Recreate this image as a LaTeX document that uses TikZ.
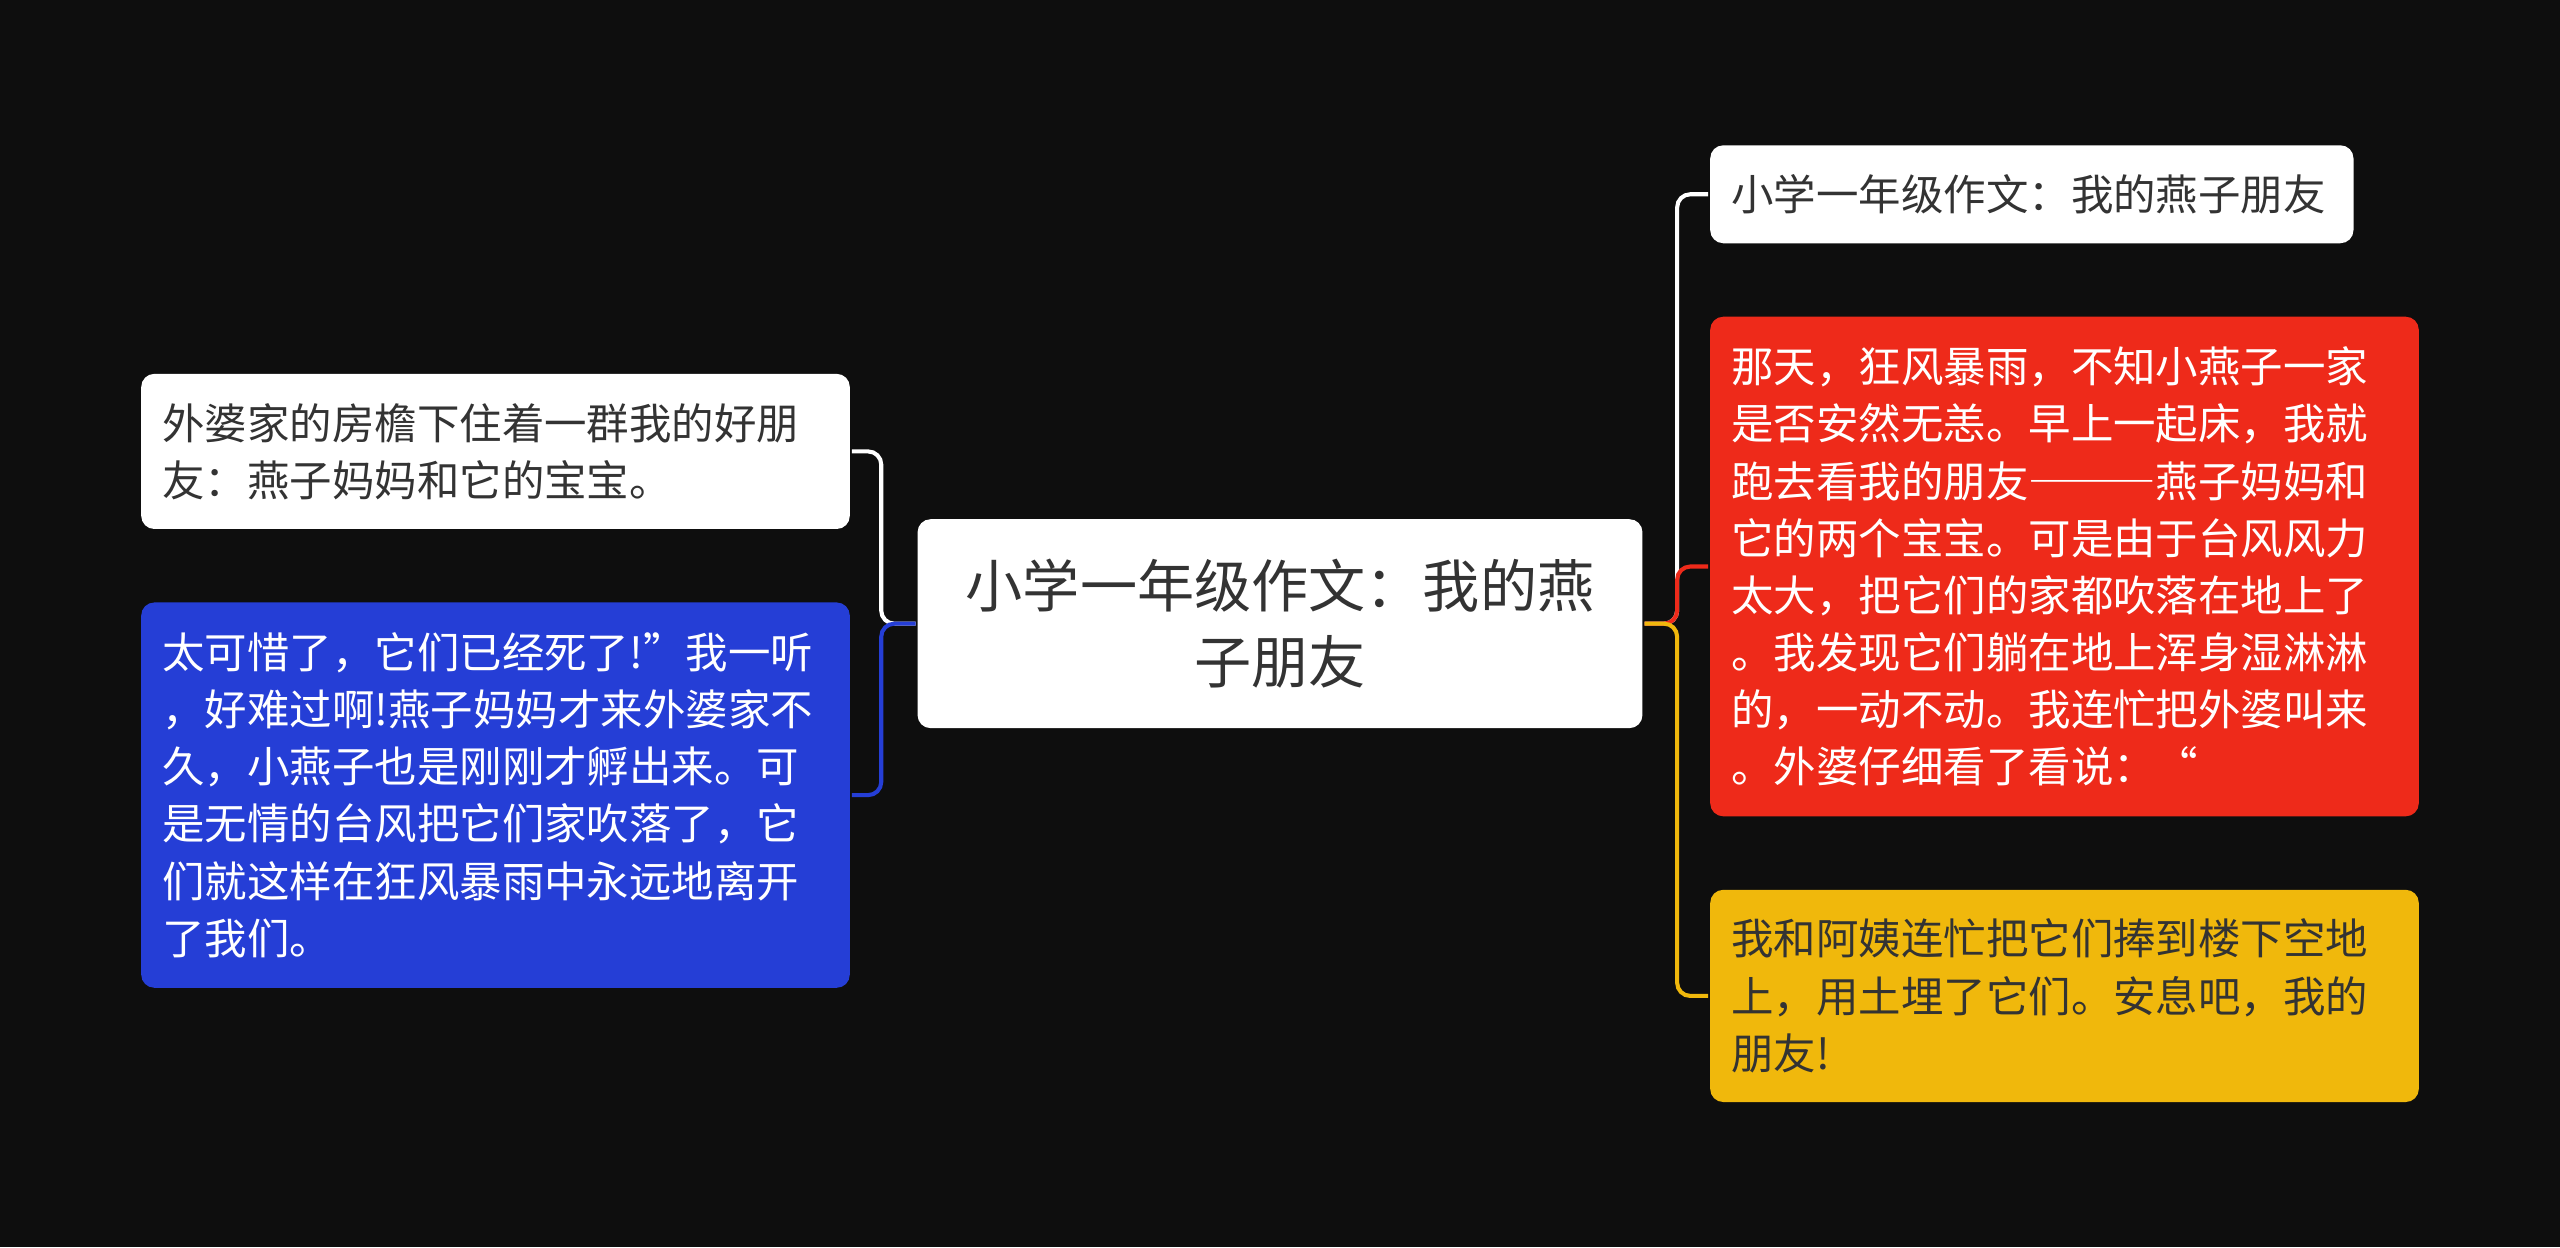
\documentclass[tikz,border=0pt]{standalone}
\usepackage{fontspec}
\newfontfamily\cjk{Noto Sans CJK SC}
\usetikzlibrary{positioning}
\definecolor{bgd}{RGB}{14,14,14}
\definecolor{ink}{RGB}{51,51,51}
\definecolor{blu}{RGB}{37,62,214}
\definecolor{rd}{RGB}{238,42,26}
\definecolor{ylw}{RGB}{240,184,12}

\begin{document}
\begin{tikzpicture}[x=1pt,y=1pt,line width=2.5pt,
  root/.style={fill=white,text=ink,rounded corners=8pt,inner sep=0pt,text width=392pt,minimum width=444pt,minimum height=128pt,align=center,font={\cjk\fontsize{35}{47}\selectfont}},
  leaf/.style={rounded corners=8pt,inner xsep=13pt,inner ysep=0pt,text width=408pt,align=left,font={\cjk\fontsize{26}{35}\selectfont}},
  wht/.style={leaf,fill=white,text=ink},
  bl/.style={leaf,fill=blu,text=white},
  rdb/.style={leaf,fill=rd,text=white},
  yl/.style={leaf,fill=ylw,text=ink},
  lnk/.style={rounded corners=8pt}]
  \fill[bgd] (0,0) rectangle (1568,764);
  \useasboundingbox (0,0) rectangle (1568,764);
  \node[root] (root) at (784,382) {小学一年级作文：我的燕\\子朋友};
  \node[wht,anchor=east,minimum height=95pt] (lw) at ([shift={(-39,105.5)}]root.west) {外婆家的房檐下住着一群我的好朋\\友：燕子妈妈和它的宝宝。};
  \node[bl,anchor=east,minimum height=236pt] (lb) at ([shift={(-39,-105)}]root.west) {太可惜了，它们已经死了!”我一听\\，好难过啊!燕子妈妈才来外婆家不\\久，小燕子也是刚刚才孵出来。可\\是无情的台风把它们家吹落了，它\\们就这样在狂风暴雨中永远地离开\\了我们。};
  \node[wht,anchor=west,minimum height=60pt,text width=368pt] (rw) at ([shift={(39,263)}]root.east) {小学一年级作文：我的燕子朋友};
  \node[rdb,anchor=west,minimum height=306pt] (rr) at ([shift={(39,35)}]root.east) {那天，狂风暴雨，不知小燕子一家\\是否安然无恙。早上一起床，我就\\跑去看我的朋友{\addfontfeature{RawFeature=+fwid}———}燕子妈妈和\\它的两个宝宝。可是由于台风风力\\太大，把它们的家都吹落在地上了\\。我发现它们躺在地上浑身湿淋淋\\的，一动不动。我连忙把外婆叫来\\。外婆仔细看了看说：“};
  \node[yl,anchor=west,minimum height=130pt] (ry) at ([shift={(39,-228)}]root.east) {我和阿姨连忙把它们捧到楼下空地\\上，用土埋了它们。安息吧，我的\\朋友!};
  \draw[lnk,white] (root.west) -- ([xshift=-21pt]root.west) |- (lw.east);
  \draw[lnk,blu] (root.west) -- ([xshift=-21pt]root.west) |- (lb.east);
  \draw[lnk,white] (root.east) -- ([xshift=20pt]root.east) |- (rw.west);
  \draw[lnk,rd] (root.east) -- ([xshift=20pt]root.east) |- (rr.west);
  \draw[lnk,ylw] (root.east) -- ([xshift=20pt]root.east) |- (ry.west);
\end{tikzpicture}
\end{document}
